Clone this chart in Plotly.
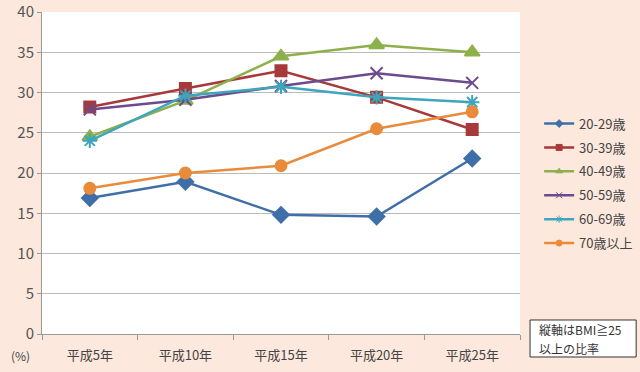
import plotly.graph_objects as go

categories = ["平成5年", "平成10年", "平成15年", "平成20年", "平成25年"]
series_names = ["20-29歳", "30-39歳", "40-49歳", "50-59歳", "60-69歳", "70歳以上"]
s20 = [16.9, 18.9, 14.8, 14.6, 21.8]
s30 = [28.2, 30.5, 32.7, 29.4, 25.4]
s40 = [24.5, 29.0, 34.5, 35.9, 35.0]
s50 = [27.9, 29.1, 30.8, 32.4, 31.2]
s60 = [24.0, 29.6, 30.7, 29.4, 28.8]
s70 = [18.1, 20.0, 20.9, 25.5, 27.6]
y_ticks = [0, 5, 10, 15, 20, 25, 30, 35, 40]
note_lines = ["縦軸はBMI≧25", "以上の比率"]

values = [s20, s30, s40, s50, s60, s70]
colors = ["#3F6FA8", "#A8393A", "#8DB04A", "#6A4B8E", "#3EA5BD", "#E98B3A"]
symbols = ["diamond", "square", "triangle-up", "x-thin-open", "asterisk-open", "circle"]
sizes = [12, 11, 13, 12, 12, 11]

FONT = "Noto Sans CJK JP, Noto Sans, sans-serif"
BG = "#FCE8DC"

fig = go.Figure()
for name, vals, c, sym, sz in zip(series_names, values, colors, symbols, sizes):
    fig.add_trace(go.Scatter(
        x=categories, y=vals, name=name, mode="lines+markers", showlegend=False,
        line=dict(color=c, width=2.5),
        marker=dict(symbol=sym, size=sz, color=c, line=dict(color=c, width=2)),
    ))
# legend entries with small markers
for i, (name, c, sym) in enumerate(zip(series_names, colors, symbols)):
    fig.add_trace(go.Scatter(
        x=[categories[0]], y=[None], name=name, mode="lines+markers",
        legendgroup=f"g{i}",
        line=dict(color=c, width=2.5),
        marker=dict(symbol=sym, size=6, color=c, line=dict(color=c, width=1)),
    ))

fig.update_layout(
    width=640, height=372,
    margin=dict(l=42, r=120, t=12, b=38, autoexpand=False),
    paper_bgcolor=BG, plot_bgcolor="white",
    font=dict(family=FONT, color="#444"),
    showlegend=True,
    legend=dict(x=1.04, y=0.70, xanchor="left", yanchor="top",
                font=dict(size=13, color="#444"), bgcolor="rgba(0,0,0,0)",
                tracegroupgap=4, itemwidth=30),
    xaxis=dict(type="category", showgrid=False, showline=True, linecolor="#999",
               automargin=False, ticklabelstandoff=9,
               ticks="outside", tickson="boundaries", ticklen=5, tickcolor="#999",
               tickfont=dict(size=13, color="#444"), range=[-0.5, 4.5]),
    yaxis=dict(range=[0, 40], tickvals=y_ticks, showgrid=True, gridcolor="#BBBBBB",
               automargin=False,
               gridwidth=1, showline=True, linecolor="#999", ticks="outside",
               ticklen=4, tickcolor="#999", zeroline=False,
               tickfont=dict(size=15, color="#555")),
)

fig.add_annotation(text="(%)", xref="paper", yref="paper", x=-0.046, y=-0.068,
                   xanchor="center", yanchor="middle", showarrow=False,
                   font=dict(size=12, color="#444"))
fig.add_shape(type="rect", xref="paper", yref="paper", x0=1.021, x1=1.243,
              y0=-0.0714, y1=0.0435, fillcolor="white", line=dict(color="#333", width=1))
for text, yy in zip(note_lines, [0.0125, -0.0435]):
    fig.add_annotation(text=text, xref="paper", yref="paper", x=1.035, y=yy,
                       xanchor="left", yanchor="middle", showarrow=False,
                       font=dict(size=12, color="#333"))

fig.write_html("out.html", config={"displayModeBar": False},
               post_script="document.body.style.margin='0px';")
